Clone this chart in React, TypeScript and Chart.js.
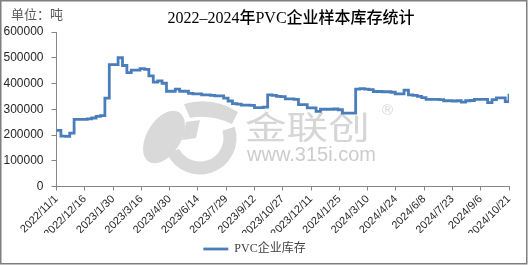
import { useEffect, useRef } from 'react';
import { Chart, registerables } from 'chart.js';

Chart.register(...registerables);

const chartTitle = '2022–2024年PVC企业样本库存统计';
const unitLabel = '单位：吨';
const seriesName = 'PVC企业库存';

const dates = [
  '2022/11/1', '2022/11/8', '2022/11/15', '2022/11/22', '2022/11/29', '2022/12/6', '2022/12/13', '2022/12/20', '2022/12/27',
  '2023/1/3', '2023/1/10', '2023/1/17', '2023/1/24', '2023/1/31', '2023/2/7', '2023/2/14', '2023/2/21', '2023/2/28',
  '2023/3/7', '2023/3/14', '2023/3/21', '2023/3/28', '2023/4/4', '2023/4/11', '2023/4/18', '2023/4/25',
  '2023/5/2', '2023/5/9', '2023/5/16', '2023/5/23', '2023/5/30', '2023/6/6', '2023/6/13', '2023/6/20', '2023/6/27',
  '2023/7/4', '2023/7/11', '2023/7/18', '2023/7/25', '2023/8/1', '2023/8/8', '2023/8/15', '2023/8/22', '2023/8/29',
  '2023/9/5', '2023/9/12', '2023/9/19', '2023/9/26', '2023/10/3', '2023/10/10', '2023/10/17', '2023/10/24', '2023/10/31',
  '2023/11/7', '2023/11/14', '2023/11/21', '2023/11/28', '2023/12/5', '2023/12/12', '2023/12/19', '2023/12/26',
  '2024/1/2', '2024/1/9', '2024/1/16', '2024/1/23', '2024/1/30', '2024/2/6', '2024/2/13', '2024/2/20', '2024/2/27',
  '2024/3/5', '2024/3/12', '2024/3/19', '2024/3/26', '2024/4/2', '2024/4/9', '2024/4/16', '2024/4/23', '2024/4/30',
  '2024/5/7', '2024/5/14', '2024/5/21', '2024/5/28', '2024/6/4', '2024/6/11', '2024/6/18', '2024/6/25',
  '2024/7/2', '2024/7/9', '2024/7/16', '2024/7/23', '2024/7/30', '2024/8/6', '2024/8/13', '2024/8/20', '2024/8/27',
  '2024/9/3', '2024/9/10', '2024/9/17', '2024/9/24', '2024/10/1', '2024/10/8', '2024/10/15', '2024/10/21',
];

const inventory = [
  218000, 196000, 195000, 207000, 261000, 261000, 261000, 263000, 266000,
  272000, 275000, 343000, 473000, 473000, 500000, 470000, 442000, 452000,
  452000, 458000, 455000, 430000, 405000, 410000, 401000, 370000,
  370000, 378000, 370000, 370000, 362000, 360000, 360000, 356000, 356000,
  354000, 352000, 352000, 343000, 332000, 322000, 320000, 316000, 316000,
  315000, 306000, 306000, 308000, 356000, 354000, 350000, 349000, 340000,
  340000, 338000, 318000, 318000, 305000, 305000, 292000, 300000,
  300000, 300000, 301000, 298000, 285000, 285000, 285000, 378000, 380000,
  378000, 376000, 369000, 369000, 368000, 368000, 366000, 360000, 360000,
  374000, 356000, 354000, 350000, 345000, 338000, 338000, 338000,
  337000, 333000, 333000, 332000, 333000, 328000, 333000, 334000, 338000,
  338000, 338000, 326000, 337000, 344000, 344000, 330000, 360000,
];

const xTickLabels = [
  '2022/11/1', '2022/12/16', '2023/1/30', '2023/3/16', '2023/4/30', '2023/6/14', '2023/7/29', '2023/9/12',
  '2023/10/27', '2023/12/11', '2024/1/25', '2024/3/10', '2024/4/24', '2024/6/8', '2024/7/23', '2024/9/6', '2024/10/21',
];

const yTicks = [0, 100000, 200000, 300000, 400000, 500000, 600000];

function toUTC(s: string) {
  const [y, m, d] = s.split('/').map(Number);
  return Date.UTC(y, m - 1, d);
}
const origin = toUTC(xTickLabels[0]);
function dayOffset(s: string) {
  return Math.round((toUTC(s) - origin) / 86400000);
}

const framePlugin = {
  id: 'frame',
  beforeDraw(chart: any) {
    const ctx = chart.ctx;
    ctx.save();
    ctx.fillStyle = '#ffffff';
    ctx.fillRect(0, 0, chart.width, chart.height);
    ctx.restore();
  },
  afterDraw(chart: any) {
    const ctx = chart.ctx;
    ctx.save();
    ctx.strokeStyle = '#7f7f7f';
    ctx.lineWidth = 1.5;
    ctx.strokeRect(0.75, 0.75, 526, 263);
    ctx.fillStyle = '#000000';
    ctx.font = '500 16px "Liberation Serif", "Noto Sans CJK SC", serif';
    ctx.textAlign = 'center';
    ctx.textBaseline = 'middle';
    ctx.fillText(chartTitle, 291, 18.5);
    ctx.fillStyle = '#595959';
    ctx.font = '13px "Noto Sans CJK SC", sans-serif';
    ctx.textAlign = 'left';
    ctx.fillText(unitLabel, 11, 14);
    ctx.restore();
  },
};

const watermarkPlugin = {
  id: 'watermark',
  beforeDatasetsDraw(chart: any) {
    const ctx = chart.ctx;
    ctx.save();
    ctx.fillStyle = '#d9d9d9';
    ctx.strokeStyle = '#d9d9d9';
    ctx.beginPath();
    ctx.ellipse(164, 137, 17, 29, 0.55, 0, Math.PI * 2);
    ctx.fill();
    ctx.beginPath();
    ctx.moveTo(184, 104);
    ctx.quadraticCurveTo(212, 96, 238, 112);
    ctx.lineTo(232, 124);
    ctx.quadraticCurveTo(210, 114, 190, 118);
    ctx.closePath();
    ctx.fill();
    ctx.beginPath();
    ctx.moveTo(186, 122);
    ctx.lineTo(200, 120);
    ctx.lineTo(196, 138);
    ctx.lineTo(182, 140);
    ctx.closePath();
    ctx.fill();
    ctx.lineWidth = 13;
    ctx.beginPath();
    ctx.arc(200, 138, 30, Math.PI * -0.1, Math.PI * 0.85, false);
    ctx.stroke();
    ctx.fillStyle = '#d6d6d6';
    ctx.textBaseline = 'alphabetic';
    ctx.textAlign = 'left';
    ctx.save();
    ctx.translate(245, 139);
    ctx.scale(1.3, 1);
    ctx.font = '32px "Noto Sans CJK SC", sans-serif';
    ctx.fillText('金联创', 0, 0);
    ctx.restore();
    ctx.font = '15px "Liberation Sans", sans-serif';
    ctx.fillText('®', 382, 115);
    ctx.fillStyle = '#cccccc';
    ctx.font = '20px "Liberation Sans", Arial, sans-serif';
    ctx.fillText('www.315i.com', 247, 161);
    ctx.restore();
  },
};

export default function App() {
  const ref = useRef<HTMLCanvasElement>(null);
  useEffect(() => {
    document.body.style.margin = '0';
    const canvas = ref.current!;
    const points = dates.map((d, i) => ({ x: dayOffset(d), y: inventory[i] }));
    const labelMap = new Map(xTickLabels.map((l) => [dayOffset(l), l]));
    const axisColor = '#868686';
    const chart = new Chart(canvas, {
      type: 'line',
      data: {
        datasets: [
          {
            label: seriesName,
            data: points,
            borderColor: '#4A7EBB',
            backgroundColor: '#4A7EBB',
            borderWidth: 2.8,
            pointRadius: 0,
            stepped: true,
            fill: false,
          },
        ],
      },
      options: {
        animation: false,
        responsive: false,
        devicePixelRatio: 1,
        layout: { padding: { top: 32, right: 20, left: 0, bottom: 0 } },
        scales: {
          x: {
            type: 'linear',
            min: dayOffset(xTickLabels[0]),
            max: dayOffset(xTickLabels[xTickLabels.length - 1]),
            afterBuildTicks: (axis: any) => {
              axis.ticks = xTickLabels.map((l) => ({ value: dayOffset(l) }));
            },
            afterFit: (s: any) => {
              s.height = 46.5;
            },
            grid: { display: true, drawOnChartArea: false, drawTicks: true, tickLength: 4, color: axisColor },
            border: { display: true, color: axisColor, width: 1 },
            ticks: {
              autoSkip: false,
              maxRotation: 45,
              minRotation: 45,
              padding: 2,
              color: '#262626',
              font: { family: '"Liberation Sans", Arial, sans-serif', size: 11 },
              callback: (v: any) => labelMap.get(Number(v)) ?? '',
            },
          },
          y: {
            min: yTicks[0],
            max: yTicks[yTicks.length - 1],
            afterBuildTicks: (axis: any) => {
              axis.ticks = yTicks.map((v) => ({ value: v }));
            },
            afterFit: (s: any) => {
              s.width = 56.5;
            },
            grid: { display: true, drawOnChartArea: false, drawTicks: true, tickLength: 5, color: axisColor },
            border: { display: true, color: axisColor, width: 1 },
            ticks: {
              padding: 8,
              color: '#262626',
              font: { family: '"Liberation Sans", Arial, sans-serif', size: 12 },
              callback: (v: any) => String(v),
            },
          },
        },
        plugins: {
          legend: {
            position: 'bottom',
            labels: {
              usePointStyle: true,
              pointStyle: 'line',
              pointStyleWidth: 25,
              boxHeight: 12,
              padding: 10,
              color: '#404040',
              font: { family: '"Liberation Serif", "Noto Sans CJK SC", serif', size: 12 },
            },
          },
          title: { display: false },
          tooltip: { enabled: false },
        },
      },
      plugins: [framePlugin, watermarkPlugin],
    } as any);
    return () => chart.destroy();
  }, []);
  return <canvas ref={ref} width={529} height={265} style={{ display: 'block' }} />;
}
